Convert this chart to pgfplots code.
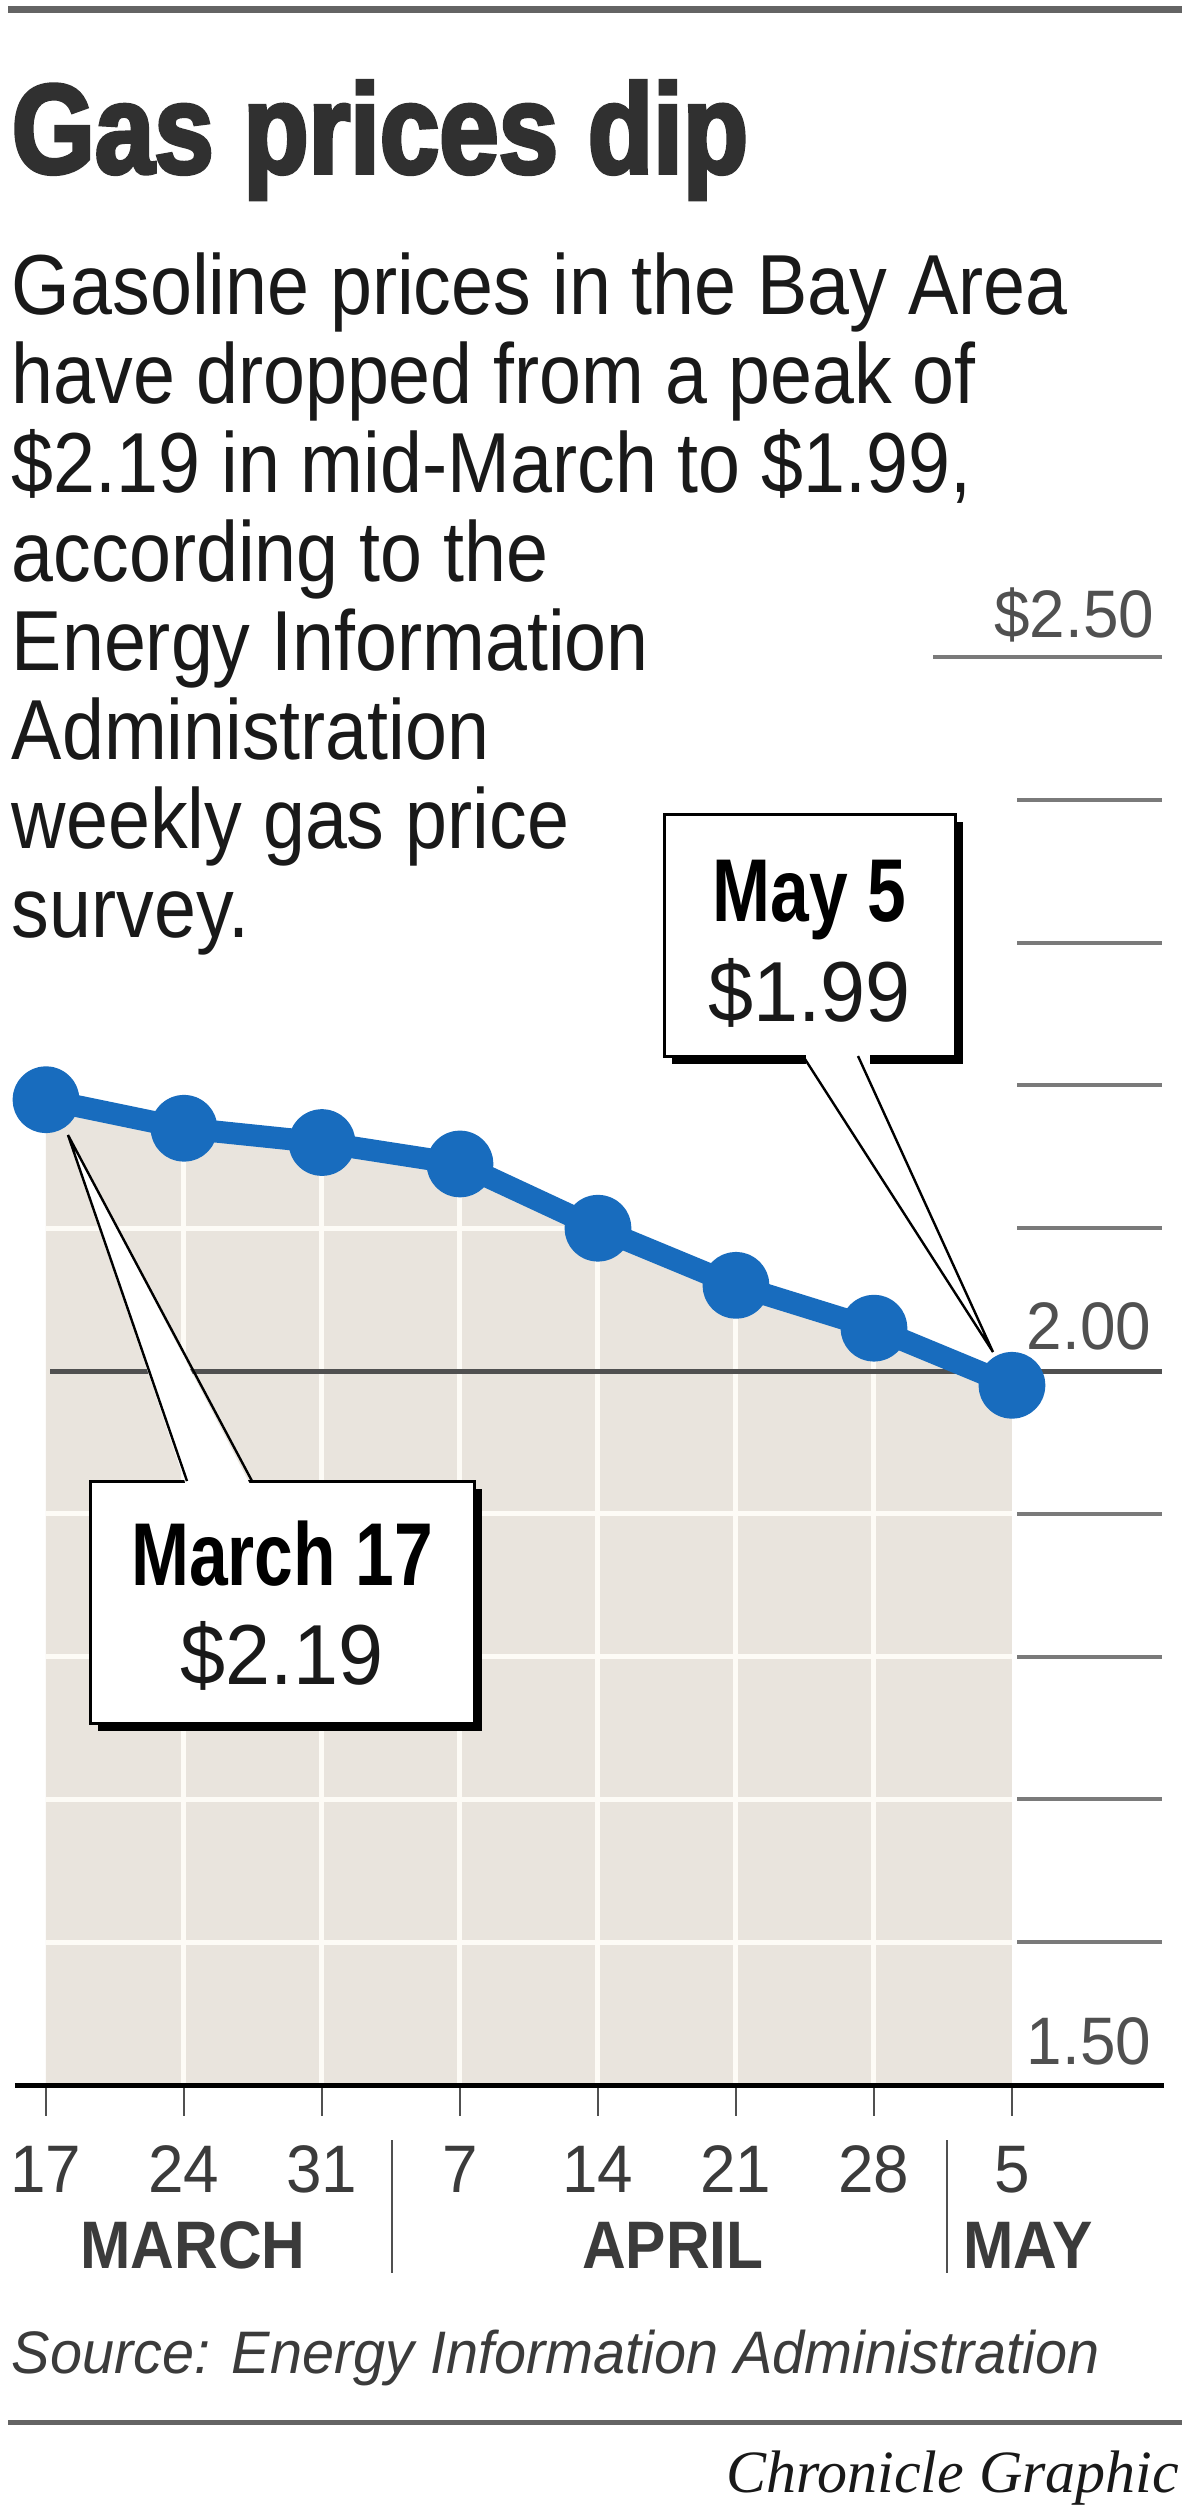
\documentclass[border=0pt]{standalone}
\usepackage{pgfplots}
\pgfplotsset{compat=1.18}
\usepackage{fontspec}
\setmainfont{Liberation Sans}
\newfontfamily\bodyf{Liberation Sans}[FakeStretch=0.885]
\newfontfamily\condb{Liberation Sans}[FakeStretch=0.78]
\newfontfamily\titlef{Liberation Sans}[FakeStretch=0.84, BoldFeatures={FakeBold=3}]
\newfontfamily\monthf{Liberation Sans}[FakeStretch=0.9]
\newfontfamily\numf{Liberation Sans}[FakeStretch=0.95]
\newfontfamily\srcf{Liberation Sans}[FakeStretch=0.96]
\newfontfamily\chronf{Liberation Serif}
\definecolor{gasblue}{RGB}{24,108,190}
\definecolor{beige}{RGB}{233,228,221}
\definecolor{gridw}{RGB}{253,251,246}
\definecolor{rulegray}{RGB}{100,100,100}
\definecolor{tickgray}{RGB}{122,122,122}
\definecolor{twoline}{RGB}{80,80,80}
\definecolor{txt}{RGB}{25,25,25}
\begin{document}
\begin{tikzpicture}
\begin{scope}[x=0.25pt,y=-0.25pt]
\fill[white] (0,0) rectangle (1200,2509);
\end{scope}
\begin{axis}[
  at={(4.6pt,-521.25pt)}, anchor=south west,
  scale only axis, width=289.8pt, height=357pt,
  xmin=-0.2, xmax=8.2, ymin=1.5, ymax=2.5,
  axis lines=none, clip=false,
]
\addplot[fill=beige, draw=none] coordinates {(0,1.5) (0,2.19) (1,2.17) (2,2.16) (3,2.145) (4,2.10) (5,2.06) (6,2.03) (7,1.99) (7,1.5)} -- cycle;
% white grid on the shaded area
\draw[gridw, line width=1.25pt] (axis cs:0,1.6) -- (axis cs:7,1.6);
\draw[gridw, line width=1.25pt] (axis cs:0,1.7) -- (axis cs:7,1.7);
\draw[gridw, line width=1.25pt] (axis cs:0,1.8) -- (axis cs:7,1.8);
\draw[gridw, line width=1.25pt] (axis cs:0,1.9) -- (axis cs:7,1.9);
\draw[gridw, line width=1.25pt] (axis cs:0,2.1) -- (axis cs:4,2.1);
\draw[gridw, line width=1.25pt] (axis cs:1,1.5) -- (axis cs:1,2.17);
\draw[gridw, line width=1.25pt] (axis cs:2,1.5) -- (axis cs:2,2.16);
\draw[gridw, line width=1.25pt] (axis cs:3,1.5) -- (axis cs:3,2.145);
\draw[gridw, line width=1.25pt] (axis cs:4,1.5) -- (axis cs:4,2.10);
\draw[gridw, line width=1.25pt] (axis cs:5,1.5) -- (axis cs:5,2.06);
\draw[gridw, line width=1.25pt] (axis cs:6,1.5) -- (axis cs:6,2.03);
% reference line at 2.00
\draw[twoline, line width=1.25pt] (axis cs:0.03,2.0) -- (axis cs:8.09,2.0);
% right-hand ticks
\draw[tickgray, line width=1pt] (axis cs:6.43,2.5) -- (axis cs:8.09,2.5);
\draw[tickgray, line width=1pt] (axis cs:7.04,2.4) -- (axis cs:8.09,2.4);
\draw[tickgray, line width=1pt] (axis cs:7.04,2.3) -- (axis cs:8.09,2.3);
\draw[tickgray, line width=1pt] (axis cs:7.04,2.2) -- (axis cs:8.09,2.2);
\draw[tickgray, line width=1pt] (axis cs:7.04,2.1) -- (axis cs:8.09,2.1);
\draw[tickgray, line width=1pt] (axis cs:7.04,1.9) -- (axis cs:8.09,1.9);
\draw[tickgray, line width=1pt] (axis cs:7.04,1.8) -- (axis cs:8.09,1.8);
\draw[tickgray, line width=1pt] (axis cs:7.04,1.7) -- (axis cs:8.09,1.7);
\draw[tickgray, line width=1pt] (axis cs:7.04,1.6) -- (axis cs:8.09,1.6);
% baseline
\draw[black, line width=1.25pt] (axis cs:-0.225,1.5) -- (axis cs:8.1,1.5);
% price line
\addplot[gasblue, line width=5.5pt, line join=round, mark=*, mark size=5.6pt,
  mark options={draw=none, fill=gasblue}] coordinates {
  (0,2.19) (1,2.17) (2,2.16) (3,2.145) (4,2.10) (5,2.06) (6,2.03) (7,1.99)};
\end{axis}
\begin{scope}[x=0.25pt,y=-0.25pt]
% x ticks
\foreach \t in {46,184,322,460,598,736,874,1012}
  \draw[twoline, line width=0.7pt] (\t,2088) -- (\t,2116);
% rules
\draw[rulegray, line width=1.75pt] (8,9) -- (1182,9);
\draw[rulegray, line width=1.25pt] (8,2422) -- (1182,2422);
% title and text
\node[anchor=base west, inner sep=0, text=txt!90!white] at (11,173) {\fontsize{31.8pt}{32pt}\titlef\bfseries Gas prices dip};
\begin{scope}[every node/.style={anchor=base west, inner sep=0, text=txt}]
\node at (11,314) {\fontsize{21.3pt}{22pt}\bodyf Gasoline prices in the Bay Area};
\node at (11,403) {\fontsize{21.3pt}{22pt}\bodyf have dropped from a peak of};
\node at (11,492) {\fontsize{21.3pt}{22pt}\bodyf \$2.19 in mid-March to \$1.99,};
\node at (11,581) {\fontsize{21.3pt}{22pt}\bodyf according to the};
\node at (11,670) {\fontsize{21.3pt}{22pt}\bodyf Energy Information};
\node at (11,759) {\fontsize{21.3pt}{22pt}\bodyf Administration};
\node at (11,848) {\fontsize{21.3pt}{22pt}\bodyf weekly gas price};
\node at (11,937) {\fontsize{21.3pt}{22pt}\bodyf survey.};
\end{scope}
% y labels
\node[anchor=base east, inner sep=0, text=twoline] at (1155,637) {\fontsize{16.8pt}{17pt}\numf \$2.50};
\node[anchor=base east, inner sep=0, text=twoline] at (1152,1349) {\fontsize{16.8pt}{17pt}\numf 2.00};
\node[anchor=base east, inner sep=0, text=twoline] at (1152,2064) {\fontsize{16.8pt}{17pt}\numf 1.50};
% x labels
\begin{scope}[every node/.style={anchor=base, inner sep=0, text=txt!85!white}]
\node at (46,2192) {\fontsize{16.8pt}{17pt}\numf 17};
\node at (184,2192) {\fontsize{16.8pt}{17pt}\numf 24};
\node at (322,2192) {\fontsize{16.8pt}{17pt}\numf 31};
\node at (460,2192) {\fontsize{16.8pt}{17pt}\numf 7};
\node at (598,2192) {\fontsize{16.8pt}{17pt}\numf 14};
\node at (736,2192) {\fontsize{16.8pt}{17pt}\numf 21};
\node at (874,2192) {\fontsize{16.8pt}{17pt}\numf 28};
\node at (1012,2192) {\fontsize{16.8pt}{17pt}\numf 5};
\node at (193,2268) {\fontsize{16.8pt}{17pt}\monthf\bfseries MARCH};
\node at (673,2268) {\fontsize{16.8pt}{17pt}\monthf\bfseries APRIL};
\node at (1028,2268) {\fontsize{16.8pt}{17pt}\monthf\bfseries MAY};
\end{scope}
\draw[twoline, line width=0.6pt] (392,2140) -- (392,2273);
\draw[twoline, line width=0.6pt] (947,2140) -- (947,2273);
% source and credit
\node[anchor=base west, inner sep=0, text=txt!85!white] at (11,2373) {\fontsize{15pt}{16pt}\srcf\itshape Source: Energy Information Administration};
\node[anchor=base east, inner sep=0, text=txt] at (1180,2492) {\fontsize{15pt}{16pt}\chronf\itshape Chronicle Graphic};
% callout May 5
\fill[black] (672,822) rectangle (963,1064);
\filldraw[fill=white, draw=black, line width=0.75pt] (664,814) rectangle (955,1056);
\fill[white] (803,1049) -- (993,1352) -- (858,1049) -- cycle;
\fill[white] (806,1054) rectangle (870,1066);
\draw[black, line width=0.6pt] (803,1056) -- (993,1352) -- (858,1056);
\node[anchor=base, inner sep=0, text=black] at (809.5,921) {\fontsize{22.3pt}{23pt}\condb\bfseries May 5};
\node[anchor=base, inner sep=0, text=txt] at (809.5,1021) {\fontsize{21.3pt}{22pt}\numf \$1.99};
% callout March 17
\fill[black] (98,1489) rectangle (482,1731);
\filldraw[fill=white, draw=black, line width=0.75pt] (90,1481) rectangle (474,1723);
\fill[white] (187,1488) -- (68,1135) -- (252,1488) -- cycle;
\draw[black, line width=0.6pt] (187,1481) -- (68,1135) -- (252,1481);
\node[anchor=base, inner sep=0, text=black] at (282,1585) {\fontsize{22.3pt}{23pt}\condb\bfseries March 17};
\node[anchor=base, inner sep=0, text=txt] at (282,1684) {\fontsize{21.3pt}{22pt}\numf \$2.19};
\end{scope}
\end{tikzpicture}
\end{document}
